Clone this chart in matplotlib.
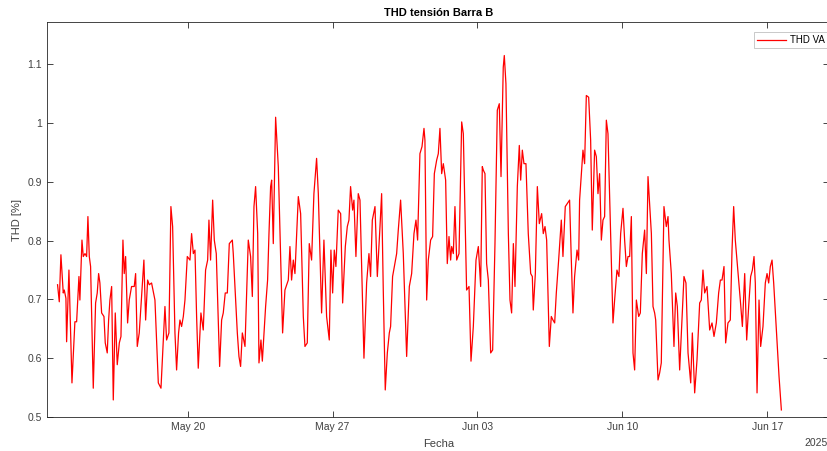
import numpy as np
import pandas as pd
import matplotlib
matplotlib.use('Agg')
import matplotlib.pyplot as plt
import matplotlib.dates as mdates
from matplotlib.ticker import FuncFormatter

plt.rcParams['font.family'] = ['Liberation Sans', 'DejaVu Sans']

# hours since 2025-05-13 00:00 and THD values [%]
hours = [
    17.2, 19.2, 21.1, 23.8, 25.0, 26.9, 27.7, 30.4, 33.9, 37.3, 39.3, 42.0, 43.1, 45.5, 47.0, 49.0,
    50.9, 52.4, 54.0, 55.5, 58.6, 61.3, 63.2, 64.8, 66.3, 68.3, 71.0, 72.5, 74.8, 76.4, 77.9, 79.9,
    81.8, 84.1, 86.4, 88.8, 90.7, 93.0, 94.5, 96.1, 98.4, 100.3, 103.0, 106.1, 107.7, 109.6, 111.9,
    115.4, 117.3, 119.3, 121.6, 123.5, 126.2, 130.1, 134.0, 137.1, 139.8, 141.7, 143.6, 146.3, 148.6,
    150.6, 153.3, 155.2, 157.5, 159.1, 161.0, 163.0, 164.9, 167.6, 170.7, 172.6, 174.6, 176.5, 178.4,
    180.3, 183.4, 186.1, 188.8, 191.2, 192.7, 194.6, 197.0, 198.9, 201.2, 203.5, 205.1, 207.4, 209.3,
    211.6, 214.0, 216.3, 219.8, 220.9, 222.9, 225.6, 227.5, 229.4, 231.4, 234.5, 238.3, 241.0, 243.0,
    244.9, 246.8, 249.2, 250.7, 253.0, 254.6, 256.5, 258.4, 260.7, 262.3, 264.2, 265.4, 267.3, 270.0,
    273.1, 278.1, 280.8, 284.7, 286.6, 288.5, 290.5, 292.4, 296.3, 299.0, 302.1, 304.0, 306.7, 309.0,
    311.7, 314.4, 317.5, 319.5, 323.3, 326.0, 329.1, 332.2, 334.1, 336.1, 338.0, 339.9, 342.6, 345.4,
    347.7, 350.8, 353.1, 355.0, 356.9, 359.3, 360.8, 363.1, 365.8, 367.8, 372.4, 375.5, 378.2, 380.1,
    382.1, 385.2, 387.9, 391.0, 392.9, 394.8, 397.1, 399.5, 401.8, 403.3, 405.6, 407.6, 410.3, 412.2,
    414.9, 418.0, 421.9, 425.0, 427.7, 430.4, 432.7, 434.6, 437.3, 439.7, 442.0, 443.1, 445.1, 447.0,
    449.7, 452.0, 454.0, 456.7, 458.6, 460.5, 462.5, 464.4, 467.1, 469.0, 471.0, 472.9, 474.1, 476.0,
    477.9, 479.9, 482.6, 485.7, 487.6, 491.4, 494.2, 496.5, 499.2, 502.3, 505.0, 507.7, 509.6, 510.8,
    512.7, 514.6, 516.6, 519.3, 521.6, 524.3, 527.0, 529.3, 531.3, 533.9, 535.1, 537.0, 539.8, 541.7,
    543.6, 545.6, 547.5, 550.2, 552.5, 554.1, 556.0, 557.9, 560.2, 562.9, 565.7, 567.6, 568.7, 571.1,
    573.4, 575.7, 578.4, 580.3, 582.3, 584.2, 587.3, 589.6, 591.5, 593.5, 595.4, 598.1, 601.2, 603.1,
    605.8, 608.1, 610.8, 612.8, 614.7, 616.6, 619.4, 621.3, 622.4, 626.3, 628.2, 630.2, 632.9, 635.2,
    637.1, 639.8, 641.8, 643.7, 645.6, 647.6, 649.5, 651.4, 653.4, 655.3, 658.4, 661.1, 663.0, 665.7,
    668.0, 670.0, 672.7, 674.6, 676.6, 678.5, 680.4, 682.4, 684.3, 686.2, 688.2, 690.9, 692.8, 695.1,
    697.8, 699.8, 701.7, 703.6, 705.6, 707.5, 709.4, 710.6, 713.3, 715.2, 717.1, 720.2, 722.9, 724.9,
    726.0, 728.7, 731.8, 733.8, 735.7, 738.4, 741.1, 743.4, 745.7, 748.1, 751.2, 753.1, 755.8, 758.5,
    761.6, 763.5, 765.4, 767.4, 770.1, 773.2, 775.9, 778.2, 780.9, 783.6, 785.6, 787.5, 789.8, 791.7,
    794.4, 797.1, 799.1, 801.0, 802.9, 804.5, 806.8, 808.7, 811.1, 813.8, 816.1, 818.4, 820.7, 822.7,
    824.6, 826.1, 828.1, 830.4, 832.3, 835.0, 837.7, 839.7, 841.6, 843.5, 845.5, 847.4, 851.6, 853.6,
    856.3,
]
thd = [
    0.725, 0.696, 0.776, 0.711, 0.716, 0.702, 0.628, 0.750, 0.558, 0.662, 0.662, 0.739, 0.699, 0.801, 0.773, 0.778,
    0.773, 0.841, 0.773, 0.756, 0.549, 0.694, 0.711, 0.744, 0.728, 0.677, 0.671, 0.626, 0.609, 0.665, 0.699, 0.722,
    0.529, 0.677, 0.589, 0.626, 0.637, 0.801, 0.744, 0.773, 0.660, 0.699, 0.722, 0.722, 0.744, 0.620, 0.643,
    0.722, 0.767, 0.665, 0.733, 0.725, 0.728, 0.699, 0.558, 0.549, 0.631, 0.688, 0.631, 0.643, 0.858,
    0.824, 0.643, 0.580, 0.643, 0.665, 0.654, 0.671, 0.699, 0.773, 0.767, 0.812, 0.778, 0.784, 0.671,
    0.583, 0.677, 0.648, 0.750, 0.767, 0.835, 0.767, 0.869, 0.801, 0.778, 0.665, 0.586, 0.665, 0.677,
    0.711, 0.711, 0.795, 0.801, 0.778, 0.722, 0.643, 0.603, 0.586, 0.643, 0.620, 0.801, 0.773, 0.705,
    0.858, 0.892, 0.812, 0.592, 0.631, 0.595, 0.643, 0.688, 0.733, 0.812, 0.892, 0.903, 0.795, 1.010,
    0.926, 0.643, 0.716, 0.733, 0.790, 0.733, 0.767, 0.744, 0.875, 0.846, 0.671, 0.620, 0.626, 0.795,
    0.767, 0.880, 0.940, 0.880, 0.677, 0.801, 0.671, 0.631, 0.784, 0.711, 0.784, 0.756, 0.852, 0.846,
    0.694, 0.790, 0.824, 0.835, 0.892, 0.852, 0.869, 0.773, 0.880, 0.869, 0.600, 0.728, 0.778, 0.739,
    0.835, 0.858, 0.739, 0.824, 0.880, 0.716, 0.546, 0.609, 0.643, 0.654, 0.739, 0.756, 0.778, 0.818,
    0.869, 0.778, 0.603, 0.722, 0.744, 0.812, 0.835, 0.801, 0.948, 0.960, 0.991, 0.971, 0.699, 0.767,
    0.801, 0.807, 0.914, 0.937, 0.948, 0.991, 0.914, 0.931, 0.903, 0.761, 0.807, 0.767, 0.790, 0.778,
    0.858, 0.767, 0.778, 1.002, 0.982, 0.716, 0.722, 0.595, 0.654, 0.767, 0.790, 0.722, 0.926, 0.920,
    0.914, 0.761, 0.733, 0.609, 0.614, 0.795, 1.022, 1.033, 0.909, 1.095, 1.115, 1.067, 0.812, 0.699,
    0.677, 0.795, 0.722, 0.892, 0.962, 0.903, 0.954, 0.931, 0.931, 0.812, 0.744, 0.739, 0.682, 0.744,
    0.892, 0.829, 0.846, 0.812, 0.824, 0.801, 0.620, 0.671, 0.665, 0.660, 0.711, 0.767, 0.835, 0.773,
    0.858, 0.863, 0.869, 0.767, 0.677, 0.739, 0.784, 0.767, 0.869, 0.954, 0.931, 1.047, 1.044, 0.971,
    0.818, 0.954, 0.943, 0.880, 0.914, 0.801, 0.835, 0.841, 1.005, 0.982, 0.812, 0.660, 0.699, 0.750,
    0.739, 0.812, 0.855, 0.801, 0.756, 0.773, 0.773, 0.841, 0.609, 0.580, 0.699, 0.671, 0.677, 0.778,
    0.818, 0.744, 0.909, 0.863, 0.812, 0.688, 0.677, 0.665, 0.563, 0.575, 0.592, 0.858, 0.824, 0.841,
    0.801, 0.744, 0.620, 0.711, 0.688, 0.580, 0.665, 0.739, 0.728, 0.609, 0.558, 0.643, 0.541, 0.597,
    0.694, 0.699, 0.750, 0.711, 0.722, 0.648, 0.660, 0.637, 0.660, 0.711, 0.733, 0.733, 0.756, 0.626,
    0.660, 0.665, 0.784, 0.858, 0.801, 0.773, 0.733, 0.699, 0.654, 0.744, 0.631, 0.688, 0.739, 0.750,
    0.773, 0.728, 0.541, 0.699, 0.620, 0.654, 0.728, 0.744, 0.728, 0.756, 0.767, 0.728, 0.620, 0.569,
    0.512,
]

start = pd.Timestamp('2025-05-13 00:00')
fechas = start + pd.to_timedelta(hours, unit='h')
x_limits = [pd.Timestamp('2025-05-13 05:00'), pd.Timestamp('2025-06-20 00:00')]

fig = plt.figure(figsize=(8.28, 4.51), dpi=100)
ax = fig.add_axes([0.0568, 0.0754, 0.9449, 0.8758])

ax.plot(fechas, thd, color='red', linewidth=0.9, label='THD VA')

ax.set_xlim(x_limits)
ax.set_ylim(0.5, 1.172)
ax.set_yticks(np.arange(0.5, 1.15, 0.1))
ax.yaxis.set_major_formatter(FuncFormatter(lambda v, p: f'{v:g}'))
ax.xaxis.set_major_locator(mdates.WeekdayLocator(byweekday=mdates.TU))
ax.xaxis.set_major_formatter(mdates.DateFormatter('%b %d'))

grey = '#262626'
for s in ax.spines.values():
    s.set_color(grey)
    s.set_linewidth(0.6)
ax.tick_params(direction='in', top=True, right=True, length=4, width=0.6,
               colors=grey, labelsize=7.5, labelcolor='#404040')

ax.set_title('THD tensión Barra B', fontsize=8, fontweight='bold', color='black', pad=4)
ax.set_xlabel('Fecha', fontsize=8, color='#404040', labelpad=5)
ax.set_ylabel('THD [%]', fontsize=8, color='#404040', labelpad=4)
ax.text(0.9975, -0.066, '2025', transform=ax.transAxes, ha='right', va='center',
        fontsize=7.5, color='#404040')

leg = ax.legend(loc='upper left', bbox_to_anchor=(0.9033, 0.9755), fontsize=7,
                handlelength=3.0, borderaxespad=0, frameon=True, fancybox=False,
                borderpad=0.35, handletextpad=0.4)
leg.get_frame().set_edgecolor('#b0b0b0')
leg.get_frame().set_linewidth(0.6)

fig.savefig('out.png', dpi=100)
